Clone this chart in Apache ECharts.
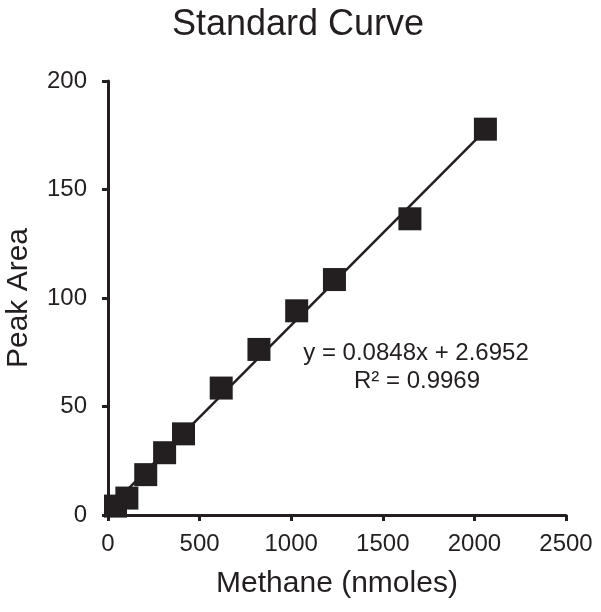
<!DOCTYPE html>
<html>
<head>
<meta charset="utf-8">
<script src="https://cdn.jsdelivr.net/npm/echarts@6/dist/echarts.min.js"></script>
<style>
  html, body { margin: 0; padding: 0; background: #fff; }
  #chart { width: 601px; height: 612px; }
</style>
</head>
<body>
<div id="chart"></div>
<script>
// methane amount (nmoles) and measured peak area
const methane = [41, 103, 206, 309, 412, 618, 824, 1030, 1236, 1648, 2060];
const peakArea = [4.1, 7.8, 18.6, 28.7, 37.4, 58.5, 76.3, 94.1, 108.5, 136.5, 177.8];

// linear trendline as given on the chart
const slope = 0.0848;
const intercept = 2.6952;
const r2 = 0.9969;

const ink = '#231f20';
const font = 'Liberation Sans, Arial, sans-serif';

const xMin = Math.min(...methane);
const xMax = Math.max(...methane);
const trend = [
  [xMin, slope * xMin + intercept],
  [xMax, slope * xMax + intercept]
];

const chart = echarts.init(document.getElementById('chart'));

chart.setOption({
  animation: false,
  title: {
    text: 'Standard Curve',
    left: 293,
    textAlign: 'center',
    top: 2,
    textStyle: { fontFamily: font, fontSize: 36, fontWeight: 'normal', color: ink }
  },
  grid: { left: 108, right: 35, top: 81, bottom: 97, outerBoundsMode: 'none', containLabel: false },
  xAxis: {
    type: 'value',
    min: 0, max: 2500, interval: 500,
    name: 'Methane (nmoles)',
    nameLocation: 'middle',
    nameGap: 54,
    nameTextStyle: { fontFamily: font, fontSize: 30, color: ink },
    axisLine: { lineStyle: { color: ink, width: 3 } },
    axisTick: { inside: false, length: 6, lineStyle: { color: ink, width: 3 } },
    axisLabel: {
      fontFamily: font, fontSize: 24, color: ink, margin: 17,
      formatter: v => String(v)
    },
    splitLine: { show: false }
  },
  yAxis: {
    type: 'value',
    min: 0, max: 200, interval: 50,
    name: 'Peak Area',
    nameLocation: 'middle',
    nameGap: 74,
    nameTextStyle: { fontFamily: font, fontSize: 30, color: ink },
    axisLine: { show: true, lineStyle: { color: ink, width: 3 } },
    axisTick: { show: true, inside: false, length: 6, lineStyle: { color: ink, width: 3 } },
    axisLabel: { fontFamily: font, fontSize: 24, color: ink, margin: 21 },
    splitLine: { show: false }
  },
  series: [
    {
      type: 'line',
      data: trend,
      symbol: 'none',
      lineStyle: { color: ink, width: 2.5 },
      z: 1
    },
    {
      type: 'scatter',
      data: methane.map((x, i) => [x, peakArea[i]]),
      symbol: 'rect',
      symbolSize: 23,
      itemStyle: { color: ink, opacity: 1 },
      z: 2
    }
  ],
  graphic: [
    {
      type: 'text',
      x: 416, y: 353,
      style: {
        text: 'y = ' + slope + 'x + ' + intercept,
        font: '24px ' + font, fill: ink,
        align: 'center', verticalAlign: 'middle'
      }
    },
    {
      type: 'text',
      x: 417, y: 381,
      style: {
        text: 'R² = ' + r2,
        font: '24px ' + font, fill: ink,
        align: 'center', verticalAlign: 'middle'
      }
    }
  ]
});
</script>
</body>
</html>
